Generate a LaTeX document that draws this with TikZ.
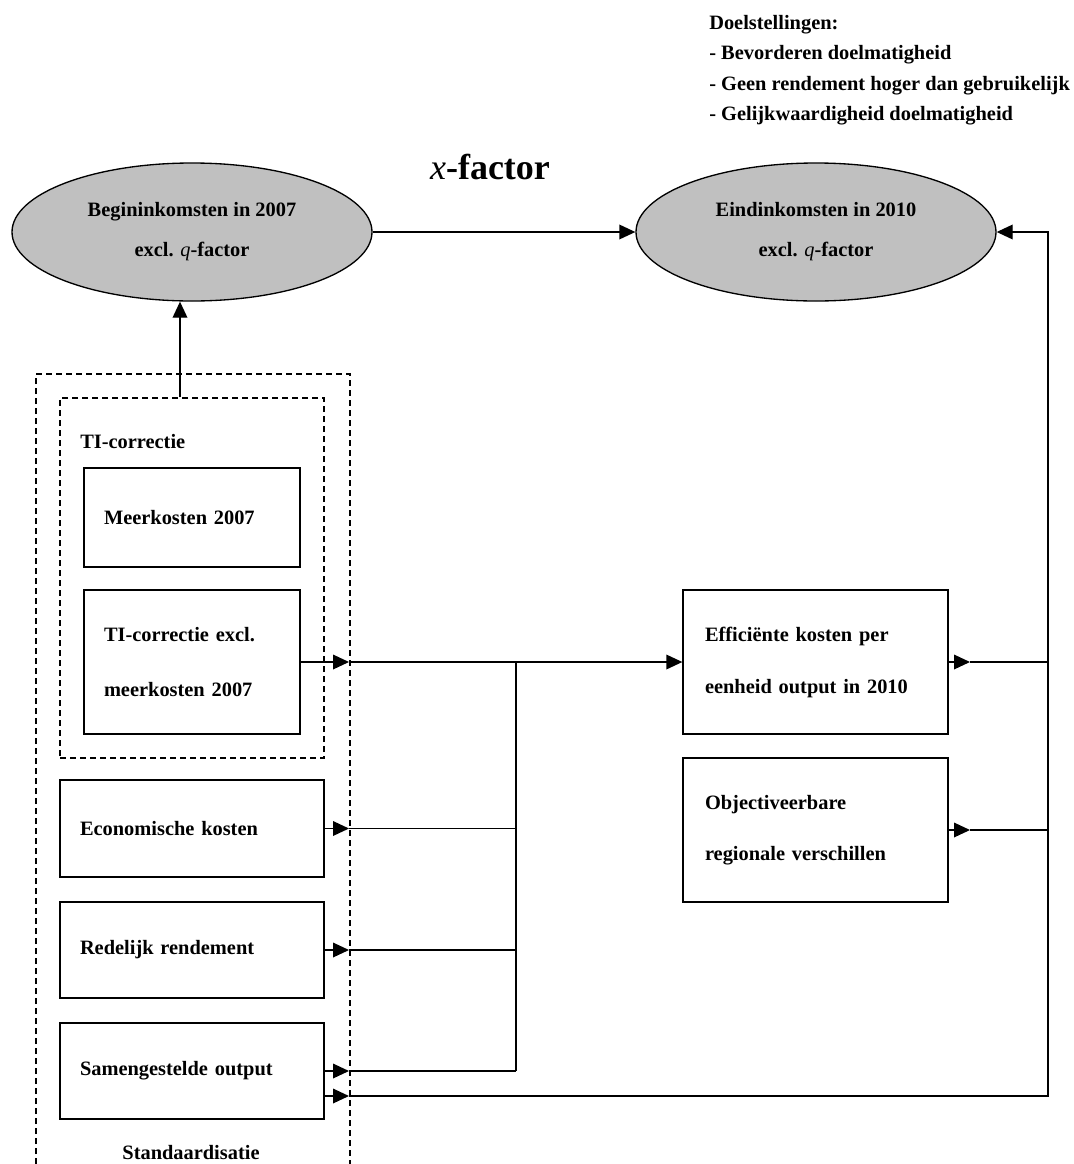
\documentclass[tikz,border=0pt]{standalone}
\usepackage{fontspec}
\setmainfont{Liberation Serif}
\usetikzlibrary{arrows.meta,shapes.geometric}
\definecolor{ovalgray}{RGB}{192,192,192}
\begin{document}
\begin{tikzpicture}[x=0.75pt,y=-0.75pt,
  every node/.style={font=\fontsize{15.3pt}{18pt}\selectfont\bfseries},
  lbl/.style={inner sep=0pt},
  oval/.style={ellipse, draw, fill=ovalgray, line width=1pt, minimum width=270pt, minimum height=103.5pt, inner sep=0pt, align=center, font=\fontsize{15.3pt}{30pt}\selectfont\bfseries},
  boxnode/.style={draw, rectangle, line width=1pt, align=left, inner ysep=0pt},
  arr/.style={-{Triangle[length=12pt,width=11pt]}, line width=1pt},
  conn/.style={line width=1pt},
  dashbox/.style={draw, dash pattern=on 4.5pt off 3pt, line width=1pt}
]
\useasboundingbox[fill=white] (0,0) rectangle (1074,1164);

% objectives
\node[lbl, anchor=base west] (d1) at (709,29) {Doelstellingen:};
\node[lbl, anchor=base west] (d2) at (709,59.6) {- Bevorderen doelmatigheid};
\node[lbl, anchor=base west] (d3) at (709,90.2) {- Geen rendement hoger dan gebruikelijk};
\node[lbl, anchor=base west] (d4) at (709,120.8) {- Gelijkwaardigheid doelmatigheid};

% x-factor
\node[lbl, font=\fontsize{27pt}{30pt}\selectfont\bfseries] (xf) at (490,167) {{\mdseries\itshape x}-factor};

% ellipses
\node[oval] (ell1) at (192,232) {Begininkomsten in 2007\\excl. {\mdseries\itshape q}-factor};
\node[oval] (ell2) at (816,232) {Eindinkomsten in 2010\\excl. {\mdseries\itshape q}-factor};

% dashed groups
\draw[dashbox] (36,1164) -- (36,374) -- (350,374) -- (350,1164);
\node[dashbox, minimum width=198pt, minimum height=270pt, inner sep=0pt] (tigroup) at (192,578) {};
\node[lbl, anchor=west] (tilabel) at (80,442) {TI-correctie};
\node[lbl] (stlabel) at (191,1153) {Standaardisatie};

% left boxes
\node[boxnode, minimum width=162pt, minimum height=74.25pt, text width=132pt, inner xsep=15pt] (meer) at (192,517.5) {Meerkosten 2007};
\node[boxnode, minimum width=162pt, minimum height=108pt, text width=132pt, inner xsep=15pt, font=\fontsize{15.3pt}{41.25pt}\selectfont\bfseries] (tiex) at (192,662) {TI-correctie excl.\\meerkosten 2007};
\node[boxnode, minimum width=198pt, minimum height=72.75pt, text width=168pt, inner xsep=15pt] (econ) at (192,828.5) {Economische kosten};
\node[boxnode, minimum width=198pt, minimum height=72pt, text width=168pt, inner xsep=15pt] (rede) at (192,950) {Redelijk rendement};
\node[boxnode, minimum width=198pt, minimum height=72pt, text width=168pt, inner xsep=15pt] (same) at (192,1071) {Samengestelde output};

% right boxes
\node[boxnode, minimum width=198.75pt, minimum height=108pt, text width=165.75pt, inner xsep=16.5pt, font=\fontsize{15.3pt}{39pt}\selectfont\bfseries] (effi) at (815.5,662) {Efficiënte kosten per\\eenheid output in 2010};
\node[boxnode, minimum width=198.75pt, minimum height=108pt, text width=165.75pt, inner xsep=16.5pt, font=\fontsize{15.3pt}{38.25pt}\selectfont\bfseries] (obje) at (815.5,830) {Objectiveerbare\\regionale verschillen};

% helper coordinates
\coordinate (upx) at (180,0);
\coordinate (tipL) at (349,0);
\coordinate (jx) at (516,0);
\coordinate (tipR) at (970,0);
\coordinate (rx) at (1048,0);
\coordinate (same2) at ([yshift=-18.75pt]same.east);

% connectors
\draw[arr] (ell1.east) -- (ell2.west);
\draw[arr] (tigroup.north -| upx) -- (upx |- ell1.south);

\draw[arr] (tiex.east) -- (tiex.east -| tipL);
\draw[arr] (tiex.east -| tipL) -- (effi.west);
\draw[arr] (econ.east) -- (econ.east -| tipL);
\draw[conn] (econ.east -| tipL) -- (econ.east -| jx);
\draw[arr] (rede.east) -- (rede.east -| tipL);
\draw[conn] (rede.east -| tipL) -- (rede.east -| jx);
\draw[arr] (same.east) -- (same.east -| tipL);
\draw[conn] (same.east -| tipL) -- (same.east -| jx);
\draw[conn] (tiex.east -| jx) -- (same.east -| jx);

\draw[arr] (effi.east) -- (effi.east -| tipR);
\draw[conn] (effi.east -| tipR) -- (effi.east -| rx);
\draw[arr] (obje.east) -- (obje.east -| tipR);
\draw[conn] (obje.east -| tipR) -- (obje.east -| rx);

\draw[arr] (same2) -- (same2 -| tipL);
\draw[arr] (same2 -| tipL) -- (same2 -| rx) -- (rx |- ell2.east) -- (ell2.east);
\end{tikzpicture}
\end{document}
